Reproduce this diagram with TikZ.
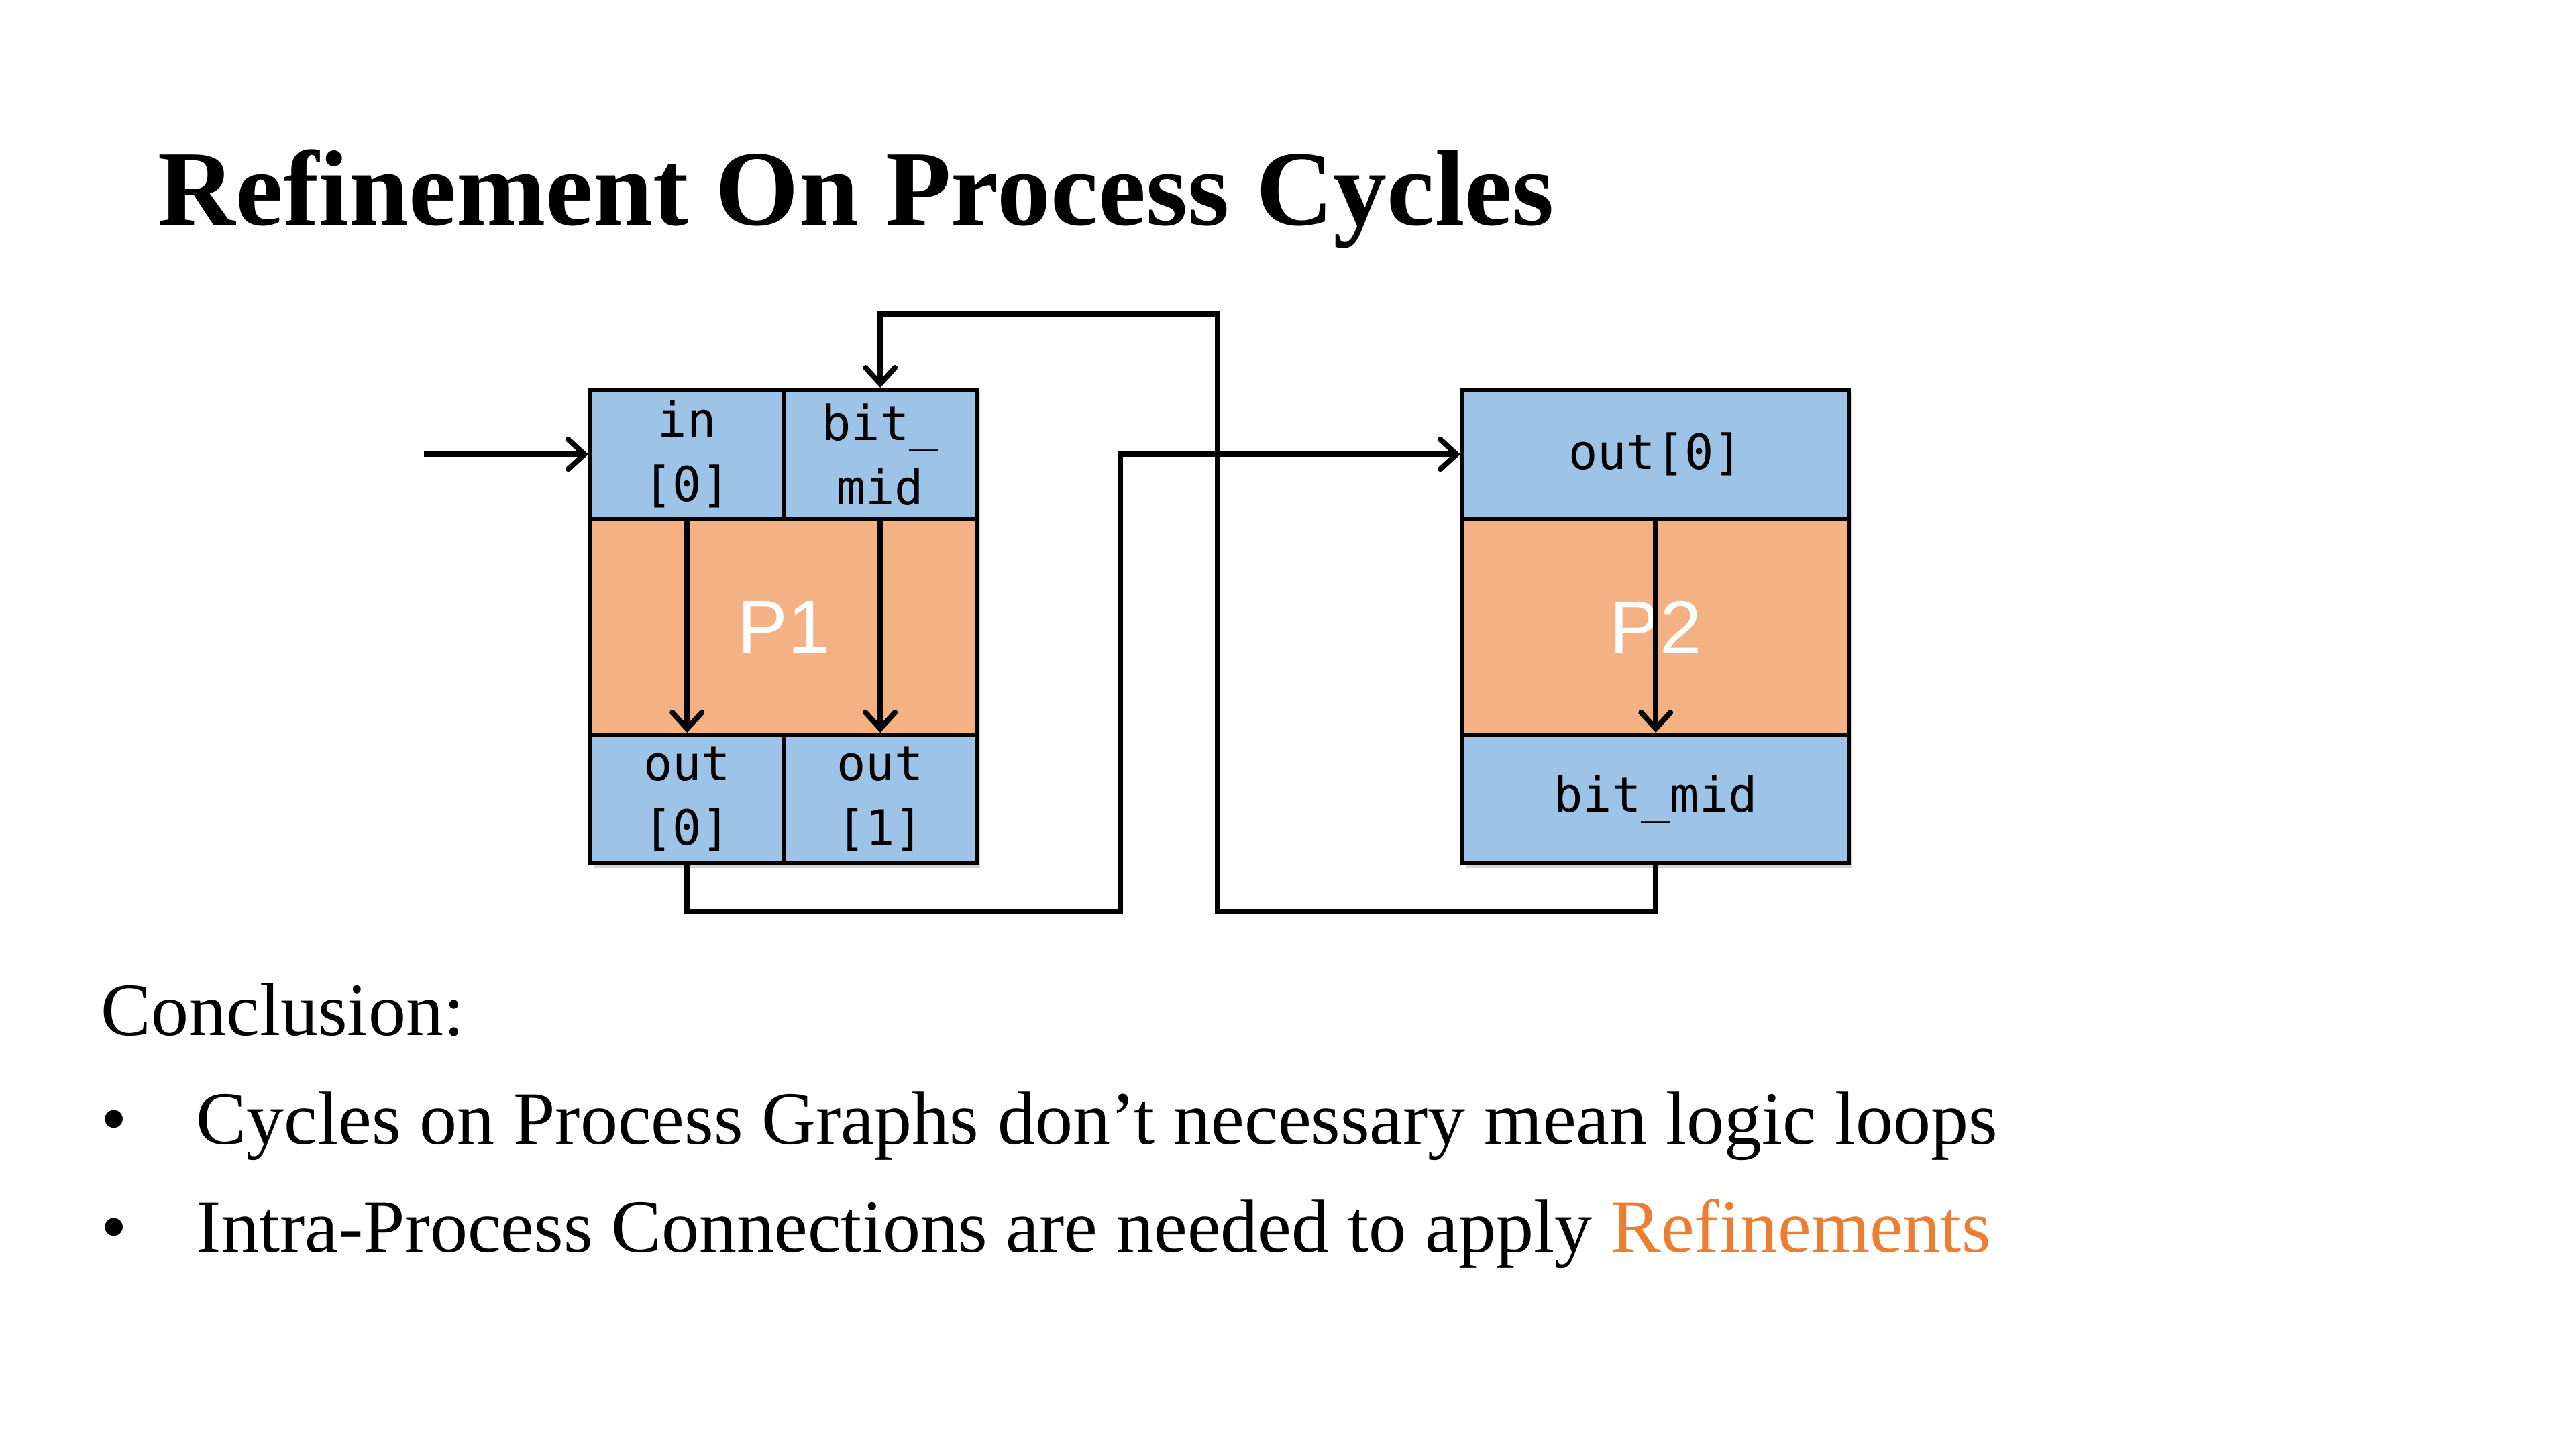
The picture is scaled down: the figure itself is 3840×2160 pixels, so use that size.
\documentclass[tikz,border=0pt]{standalone}
\usepackage{fontspec}
\setmainfont{Liberation Serif}
\newfontfamily\monof{DejaVu Sans Mono}
\newfontfamily\sansf{Liberation Sans}
\usetikzlibrary{arrows.meta,shadows}
\definecolor{portblue}{HTML}{9DC3E6}
\definecolor{procorange}{HTML}{F4B183}
\definecolor{hiorange}{HTML}{ED7D31}
\begin{document}
\begin{tikzpicture}[x=0.25pt,y=-0.25pt,
  cell/.style={draw=black, line width=1.6pt, fill=portblue, font=\monof\fontsize{18}{24}\selectfont,
    align=center, inner sep=0pt, anchor=north west, minimum width=72pt, minimum height=48pt},
  wcell/.style={cell, minimum width=144pt},
  proc/.style={draw=black, line width=1.6pt, fill=procorange, font=\sansf\fontsize{28}{30}\selectfont,
    text=white, inner sep=0pt, anchor=north west, minimum width=144pt, minimum height=81pt},
  shad/.style={fill=white, drop shadow={opacity=0.35, shadow xshift=2pt, shadow yshift=-2pt}},
  wire/.style={line width=2pt, draw=black},
  arr/.style={wire, -{Straight Barb[length=6pt,width=11pt,line cap=round]}},
  txt/.style={inner sep=0pt, anchor=base west}
]
\useasboundingbox (0,0) rectangle (3840,2160);

% title
\node[txt, font=\bfseries\fontsize{40}{48}\selectfont] (title) at (235,336) {Refinement On Process Cycles};

% shadows
\fill[shad] (877,578) rectangle (1453,1286);
\fill[shad] (2177,578) rectangle (2753,1286);

% P1
\node[proc] (p1) at (877,770) {P1};
\node[cell] (p1in) at (877,578) {in\\{[0]}};
\node[cell] (p1bm) at (1165,578) {bit\_\\mid};
\node[cell] (p1o0) at (877,1092) {out\\{[0]}};
\node[cell] (p1o1) at (1165,1092) {out\\{[1]}};

% P2
\node[proc] (p2) at (2177,770) {P2};
\node[wcell] (p2o) at (2177,578) {out[0]};
\node[wcell] (p2bm) at (2177,1092) {bit\_mid};

% routing coordinates
\coordinate (src) at (632,0);
\coordinate (lowY) at (0,1359);
\coordinate (topY) at (0,468);
\coordinate (xL) at (1670,0);
\coordinate (xR) at (1815,0);

% internal arrows
\draw[arr] (p1in.south) -- (p1o0.north);
\draw[arr] (p1bm.south) -- (p1o1.north);
\draw[arr] (p2o.south) -- (p2bm.north);

% input arrow
\draw[arr] (src |- p1in.west) -- (p1in.west);

% out[0] of P1 to P2 input
\draw[arr] (p1o0.south) -- (p1o0.south |- lowY) -- (xL |- lowY) -- (xL |- p2o.west) -- (p2o.west);

% bit_mid of P2 back to P1
\draw[arr] (p2bm.south) -- (p2bm.south |- lowY) -- (xR |- lowY) -- (xR |- topY) -- (p1bm.north |- topY) -- (p1bm.north);

% text
\node[txt, font=\fontsize{28}{34}\selectfont] (concl) at (150,1543) {Conclusion:};
\node[txt, font=\fontsize{28}{34}\selectfont] (b1) at (150,1705) {\textbullet};
\node[txt, font=\fontsize{28}{34}\selectfont] (t1) at (292,1705) {Cycles on Process Graphs don’t necessary mean logic loops};
\node[txt, font=\fontsize{28}{34}\selectfont] (b2) at (150,1866) {\textbullet};
\node[txt, font=\fontsize{28}{34}\selectfont] (t2) at (292,1866) {Intra-Process Connections are needed to apply \textcolor{hiorange}{Refinements}};
\end{tikzpicture}
\end{document}
